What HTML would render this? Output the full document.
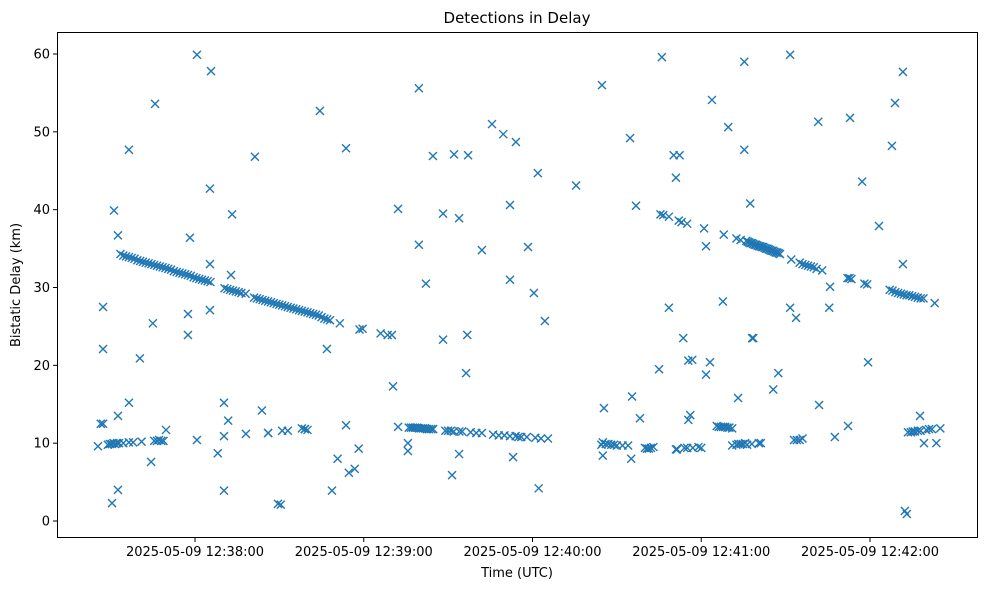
<!DOCTYPE html>
<html><head><meta charset="utf-8">
<style>
html,body{margin:0;padding:0;background:#fff;}
svg text{font-family:"DejaVu Sans","Liberation Sans",sans-serif;fill:#000;}
</style></head>
<body>
<svg id="chart" width="989" height="590" viewBox="0 0 989 590" xmlns="http://www.w3.org/2000/svg">
<rect x="0" y="0" width="989" height="590" fill="#fff"/>
<text x="517" y="23" font-size="15" text-anchor="middle">Detections in Delay</text>
<g id="marks"></g>
<rect x="57.5" y="32.5" width="920" height="505" fill="none" stroke="#000" stroke-width="1"/>
<g id="xticks"></g>
<g id="yticks"></g>
<text x="517" y="577" font-size="13" text-anchor="middle">Time (UTC)</text>
<text x="20" y="285" font-size="13" text-anchor="middle" transform="rotate(-90 20 285)">Bistatic Delay (km)</text>
</svg>
<script>
// seconds since 12:37:00, delay in km
const upperTrackT=[33.5,34.5,35.5,36.5,37.5,38.5,39.5,40.5,41.5,42.5,43.5,44.5,45.5,46.5,47.5,48.5,49.5,50.5,51.5,52.5,53.5,54.5,55.5,56.5,57.5,58.5,59.5,60.5,61.5,62.5,63.5,64.5,65.5,
70.5,71.5,72.5,73.5,74.5,75.5,76.5,78,
81,82,83,84,85,86,87,88,89,90,91,92,93,94,95,96,97,98,99,100,101,102,103,104,105,106,107,108,
111.5,118.5,126,128.5,130,
225.5,226.5,228.5,232,233,235,241,248,252.5,254,
256,256.5,257,257.5,258,258.5,259,259.5,260,260.5,261,261.5,262,262.5,263,263.5,264,264.5,265,265.5,266,266.5,267,267.5,268,
272,275,276,277,278,279,280,281,283,292,292.7,293.4,298,299,
307,308,309,310,311,312,313,314,315,316,317,318,319,323];
const upperTrackKm=[34.3,34.1,34.0,33.9,33.8,33.7,33.5,33.4,33.3,33.2,33.1,33.0,32.9,32.8,32.7,32.6,32.5,32.4,32.3,32.1,32.0,31.9,31.8,31.7,31.6,31.5,31.3,31.2,31.1,31.0,30.9,30.8,30.7,
29.9,29.8,29.7,29.6,29.5,29.4,29.3,29.2,
28.7,28.6,28.5,28.4,28.3,28.2,28.1,28.0,27.9,27.8,27.7,27.6,27.5,27.4,27.3,27.2,27.1,27.0,26.9,26.8,26.7,26.6,26.5,26.4,26.2,26.0,25.9,25.8,
25.4,24.6,24.1,23.9,23.9,
39.4,39.3,39.1,38.6,38.4,38.2,37.6,36.8,36.3,36.1,
36.0,35.9,35.8,35.7,35.7,35.6,35.5,35.5,35.4,35.3,35.3,35.2,35.2,35.1,35.0,35.0,34.9,34.8,34.7,34.7,34.6,34.5,34.5,34.4,34.3,
33.6,33.2,33.0,32.9,32.8,32.7,32.6,32.4,32.2,31.2,31.2,31.1,30.5,30.4,
29.7,29.6,29.4,29.3,29.2,29.1,29.0,29.0,28.9,28.8,28.7,28.6,28.6,28.0];
const lowerTrackT=[29,29.7,30.4,31,31.6,32.3,33,34.5,36.5,38,41,45.5,46.5,47.2,48,48.8,
86,91,93,98,99,100,
136,136.8,137.5,138.2,139,139.7,140.4,141.1,141.8,142.5,143.2,144,144.7,
149,150,151,152,154,155,158,160,162,
166,168,170,172,174,175,176,178,181,183,185.5,
204.5,205,206,207,208,209,210,212,214,220,220.7,221.4,222.1,223,231,234,235,237,239,240,
245.5,246.2,247,247.8,248.5,249.3,250,251,251,252.5,253.2,254,254.8,255.6,256.3,258,260.5,261.2,
273,274,275,276,313.5,314.5,315.2,316,317,318,320,321,322,325];
const lowerTrackKm=[9.8,9.9,9.9,10.0,9.9,10.0,10.0,10.0,10.1,10.1,10.2,10.3,10.3,10.4,10.3,10.3,
11.3,11.6,11.6,11.9,11.8,11.7,
12.0,12.0,12.0,12.0,12.0,11.9,11.9,11.9,11.9,11.8,11.8,11.8,11.8,
11.6,11.6,11.6,11.5,11.5,11.5,11.4,11.3,11.3,
11.1,11.0,11.0,10.9,10.9,10.8,10.8,10.8,10.7,10.6,10.6,
9.8,10.1,9.9,9.9,9.8,9.8,9.7,9.7,9.7,9.4,9.3,9.3,9.4,9.5,9.2,9.4,9.4,9.4,9.5,9.4,
12.2,12.1,12.1,12.1,12.1,12.0,12.0,11.9,9.7,9.8,9.9,9.9,9.9,10.0,9.8,9.9,10.0,10.0,
10.4,10.4,10.4,10.6,11.4,11.4,11.5,11.5,11.6,11.6,11.7,11.8,11.8,11.9];
const outlierT=[25.5,27.3,27.3,26.5,27.3,30.5,31.2,32.6,32.6,32.6,36.5,36.5,40.4,44.4,45.8,45,49.7,57.5,57.5,58.2,60.7,60.7,65.7,65.3,65.3,65.3,68.1,70.3,70.3,71.8,70.3,73.2,72.8,78.1,81.3,83.8,86,89.5,90.5,99.1,104.4,106.9,108.7,110.7,113.7,113.7,114.7,116.8,118.2,119.6,130.4,132.2,132.2,135.7,135.7,139.6,139.6,142.1,144.6,148.2,148.2,151.4,152.1,153.9,153.9,157.1,156.8,156.4,162,165.6,169.6,172,172,173.1,174.1,178.4,180.5,181.9,182.2,184.4,195.5,204.7,205.4,205,214.7,215.4,215.1,216.8,218.2,225,226,228.5,230.2,232.3,231,231.4,233.6,235.4,236.1,236.8,235.4,241.7,241.7,243.1,243.8,247.7,249.6,253.1,255.3,255.3,257.4,258.5,258.1,265.6,267.4,271.6,271.6,273.7,281.6,281.9,285.5,285.8,287.5,292.2,292.9,297.2,299.3,303.2,307.8,308.9,311.7,311.7,312.4,313.1,317.8,319.2,323.6];
const outlierKm=[9.6,27.5,22.1,12.5,12.5,2.3,39.9,36.7,4.0,13.5,47.7,15.2,20.9,7.6,53.6,25.4,11.7,23.9,26.6,36.4,59.9,10.4,57.8,42.7,33.0,27.1,8.7,10.9,15.2,12.9,3.9,39.4,31.6,11.2,46.8,14.2,11.3,2.2,2.1,11.8,52.7,22.1,3.9,8.0,47.9,12.3,6.2,6.7,9.3,24.7,17.3,40.1,12.1,9.0,10.0,55.6,35.5,30.5,46.9,23.3,39.5,5.9,47.1,38.9,8.6,47.0,23.9,19.0,34.8,51.0,49.7,40.6,31.0,8.2,48.7,35.2,29.3,44.7,4.2,25.7,43.1,56.0,14.5,8.4,49.2,16.0,8.0,40.5,13.2,19.5,59.6,27.4,47.0,47.0,44.1,9.2,23.5,13.0,13.6,20.7,20.6,18.8,35.3,20.4,54.1,28.2,50.6,15.8,59.0,47.7,40.8,23.5,23.5,16.9,19.0,27.4,59.9,26.1,51.3,14.9,27.4,30.1,10.8,12.2,51.8,43.6,20.4,37.9,48.2,53.7,33.0,57.7,1.3,0.9,13.5,10.0,10.0,9.0];
const xTickSeconds=[60,120,180,240,300];
const xTickLabels=["2025-05-09 12:38:00","2025-05-09 12:39:00","2025-05-09 12:40:00","2025-05-09 12:41:00","2025-05-09 12:42:00"];
const yTickValues=[0,10,20,30,40,50,60];

const NS="http://www.w3.org/2000/svg";
function xScale(t){return 195+(t-60)*2.8125;}
function yScale(v){return 521-v*7.783;}

const marks=document.getElementById('marks');
function drawSeries(ts,ks){
  for(let i=0;i<ts.length;i++){
    const cx=xScale(ts[i]),cy=yScale(ks[i]),r=4;
    const p=document.createElementNS(NS,'path');
    p.setAttribute('d',`M${cx-r},${cy-r}L${cx+r},${cy+r}M${cx-r},${cy+r}L${cx+r},${cy-r}`);
    p.setAttribute('stroke','#1f77b4');
    p.setAttribute('stroke-width','1.4');
    p.setAttribute('fill','none');
    
    
    marks.appendChild(p);
  }
}
drawSeries(upperTrackT,upperTrackKm);
drawSeries(lowerTrackT,lowerTrackKm);
drawSeries(outlierT,outlierKm);

const xg=document.getElementById('xticks');
xTickSeconds.forEach((s,i)=>{
  const x=xScale(s);
  const l=document.createElementNS(NS,'line');
  l.setAttribute('x1',x);l.setAttribute('x2',x);l.setAttribute('y1',538);l.setAttribute('y2',542);
  l.setAttribute('stroke','#000');
  
  
  xg.appendChild(l);
  const t=document.createElementNS(NS,'text');
  t.setAttribute('x',x);t.setAttribute('y',556);t.setAttribute('font-size','13');t.setAttribute('text-anchor','middle');
  t.textContent=xTickLabels[i];
  
  
  xg.appendChild(t);
});
const yg=document.getElementById('yticks');
yTickValues.forEach(v=>{
  const y=yScale(v);
  const l=document.createElementNS(NS,'line');
  l.setAttribute('x1',53);l.setAttribute('x2',57);l.setAttribute('y1',y);l.setAttribute('y2',y);
  l.setAttribute('stroke','#000');
  
  
  yg.appendChild(l);
  const t=document.createElementNS(NS,'text');
  t.setAttribute('x',50);t.setAttribute('y',y+4.5);t.setAttribute('font-size','13');t.setAttribute('text-anchor','end');
  t.textContent=String(v);
  
  
  yg.appendChild(t);
});
</script>
</body></html>
